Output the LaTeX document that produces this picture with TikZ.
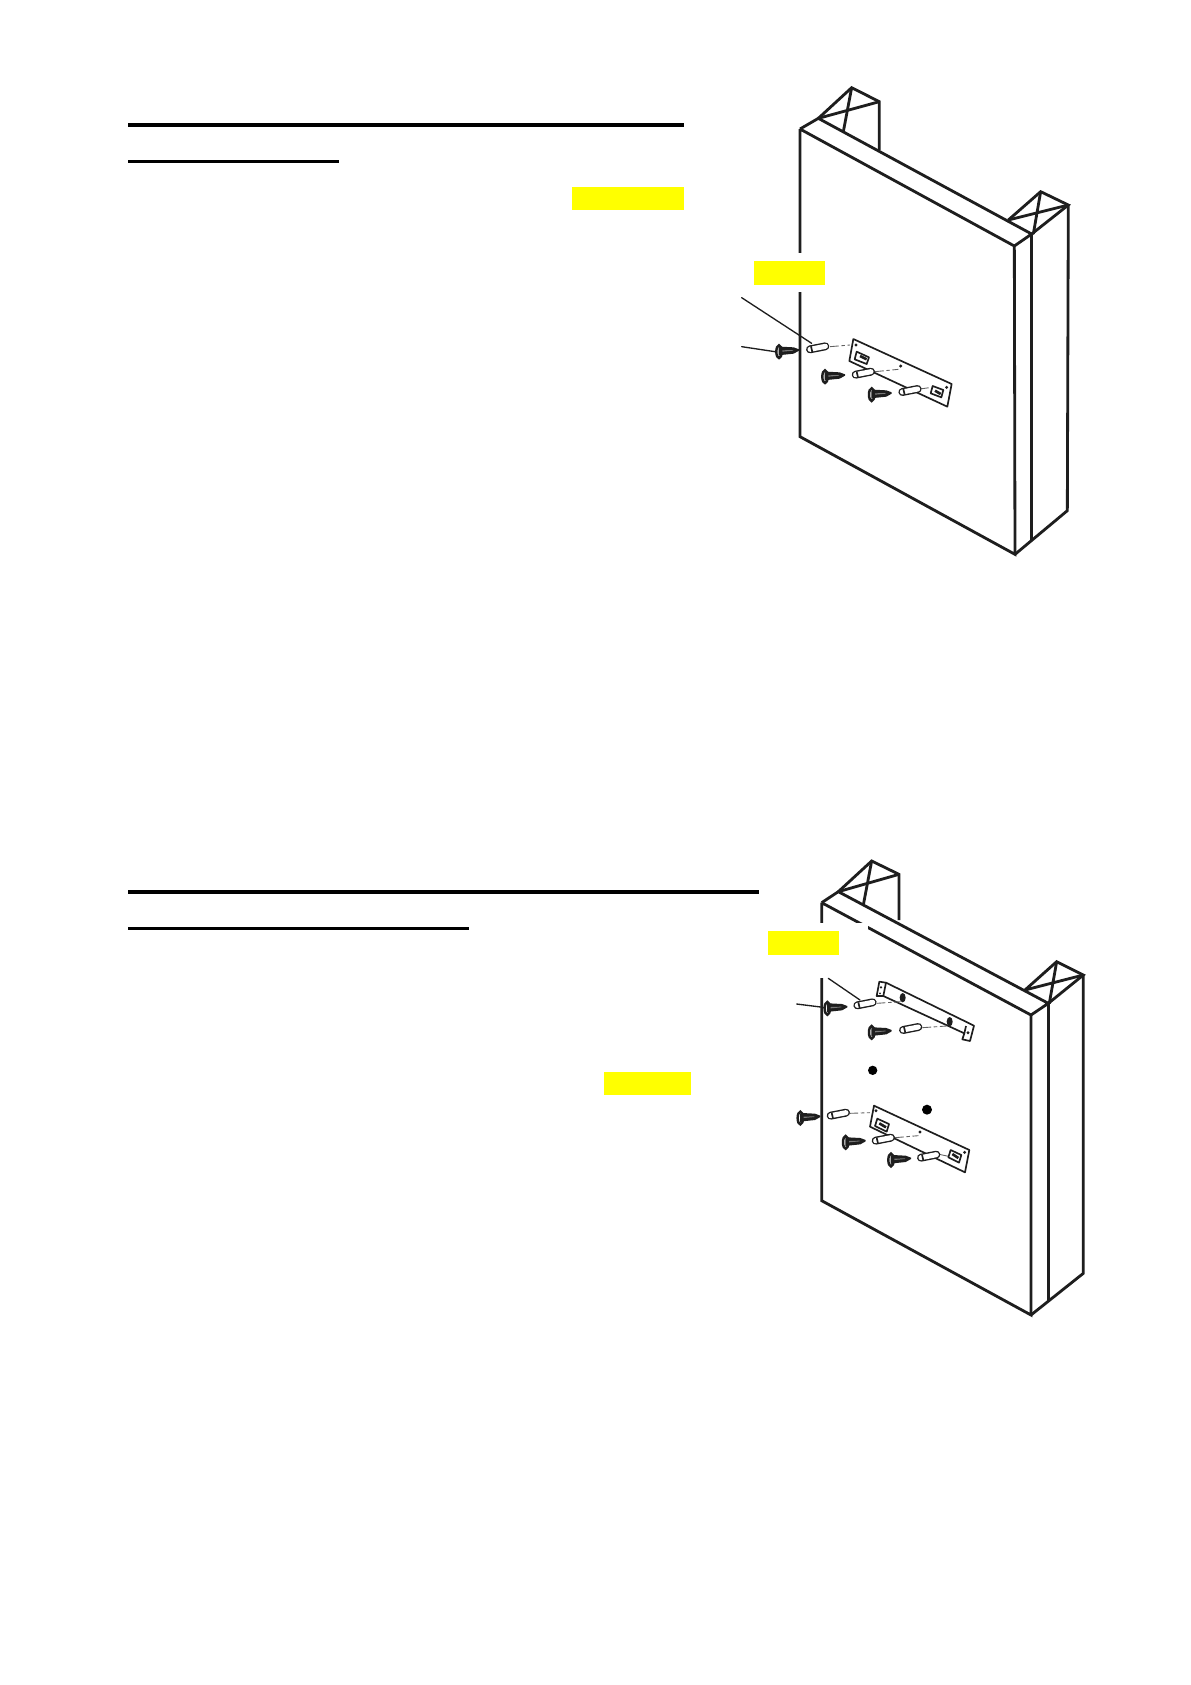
\documentclass[tikz,border=0pt]{standalone}
\definecolor{hilite}{RGB}{255,255,0}
\definecolor{ink}{RGB}{30,30,30}
\tikzset{
  heavy/.style={draw=ink,line width=1.6pt,line join=miter},
  fine/.style={draw=ink,line width=.75pt,line cap=round},
  thin dash/.style={draw=ink!70,line width=.5pt,dash pattern=on 5pt off 1.5pt on 2pt off 1.5pt},
  plate/.style={draw=ink,line width=.95pt,line join=round},
  zoomed/.style={shift={(#1)},scale=1/3}
}
% screw: head centre at #1,#2, tip towards the right
\newcommand{\screwat}[2]{%
  \begin{scope}[shift={(#1,#2)}]
    \draw[draw=ink,line width=1.4pt,fill=white] (0,0) ellipse [x radius=8,y radius=19];
    \fill[ink] (-1,-12) -- (6,-15) -- (44,-13) -- (60,-7) -- (60,-3) -- (44,6) -- (6,10) -- (-1,12) -- cycle;
    \fill[ink!60] (10,-4) -- (42,-5) -- (42,-3) -- (10,0) -- cycle;
  \end{scope}}
% plug: centre at #1,#2, right end raised
\newcommand{\plugat}[2]{%
  \begin{scope}[shift={(#1,#2)}]
    \draw[draw=ink,line width=4.5pt,line cap=round] (-23,4) -- (23,-5);
    \draw[draw=white,line width=2.9pt,line cap=round] (-23,4) -- (23,-5);
    \draw[plate] (-20,-5) -- (-16,12);
  \end{scope}}
\begin{document}
\begin{tikzpicture}[x=0.02cm,y=-0.02cm]
\useasboundingbox (0,0) rectangle (1191,1685);
\fill[white] (0,0) rectangle (1191,1685);

% ---------- headings rules and highlights, upper block
\fill[black] (128,123) rectangle (684,127);
\fill[black] (128,160) rectangle (339,163);
\fill[hilite] (572,187) rectangle (684,210);

% ---------- upper unit
\begin{scope}[zoomed={680,60}]
  \draw[heavy] (360,207) -- (360,1130) -- (1005,1483) -- (1003,558) -- (360,207);
  \draw[heavy] (360,207) -- (415,175) -- (1055,522) -- (1003,558);
  \draw[heavy] (415,175) -- (515,83) -- (598,125) -- (598,270);
  \draw[heavy] (415,175) -- (598,125);
  \draw[heavy] (515,83) -- (490,215);
  \draw[heavy] (985,480) -- (1082,395) -- (1165,435) -- (1055,522);
  \draw[heavy] (985,480) -- (1165,435);
  \draw[heavy] (1082,395) -- (1060,522);
  \draw[heavy] (1165,435) -- (1162,1352) -- (1005,1483);
  \draw[heavy] (1055,522) -- (1055,1440);
  \fill[white] (222,580) rectangle (435,696);
  \fill[hilite] (222,603) rectangle (435,675);
  \draw[fine] (185,713) -- (395,850);
  \draw[fine] (185,860) -- (285,875);
\end{scope}

\begin{scope}[zoomed={720,280}]
  \draw[plate,fill=white] (400,177) -- (695,312) -- (682,380) -- (388,243) -- cycle;
  \draw[plate] (410,215) -- (447,232) -- (440,252) -- (404,238) -- cycle;
  \draw[plate,line width=1.5pt] (420,228) -- (440,238);
  \draw[plate] (638,318) -- (670,330) -- (664,352) -- (632,340) -- cycle;
  \draw[plate,line width=1.5pt] (645,332) -- (662,342);
  \foreach \hx/\hy in {408/195,542/258,680/322} \fill[ink] (\hx,\hy) circle [radius=5];
  \draw[thin dash] (330,200) -- (390,195);
  \draw[thin dash] (465,275) -- (535,268);
  \draw[thin dash] (600,327) -- (635,322);
  \plugat{293}{204}
  \plugat{430}{280}
  \plugat{570}{332}
  \screwat{177}{215}
  \screwat{315}{290}
  \screwat{455}{344}
\end{scope}

% ---------- lower block rules and highlight
\fill[black] (128,890) rectangle (759,894);
\fill[black] (128,927) rectangle (469,930);
\fill[hilite] (604,1072) rectangle (691,1095);

% ---------- lower unit
\begin{scope}[zoomed={700,840}]
  \draw[heavy] (365,188) -- (365,1082) -- (993,1425) -- (993,525) -- (365,188);
  \draw[heavy] (365,188) -- (415,155) -- (1045,490) -- (993,525);
  \draw[heavy] (415,155) -- (515,63) -- (597,103) -- (597,240);
  \draw[heavy] (415,155) -- (597,103);
  \draw[heavy] (515,63) -- (490,195);
  \draw[heavy] (975,450) -- (1070,365) -- (1150,405) -- (1045,490);
  \draw[heavy] (975,450) -- (1150,405);
  \draw[heavy] (1070,365) -- (1048,490);
  \draw[heavy] (1150,405) -- (1150,1300) -- (993,1425);
  \draw[heavy] (1045,490) -- (1045,1385);
  \fill[white] (204,250) rectangle (505,415);
  \fill[hilite] (204,273) rectangle (417,345);
  \draw[fine] (385,415) -- (480,480);
  \draw[fine] (290,492) -- (370,502);
\end{scope}

\begin{scope}[zoomed={770,960}]
  % upper bracket
  \draw[plate,fill=white] (328,65) -- (348,68) -- (612,197) -- (600,243) -- (577,238) -- (583,220) -- (340,108) -- (320,108) -- cycle;
  \draw[plate] (348,68) -- (340,108);
  \draw[plate] (588,198) -- (583,220);
  \fill[ink] (398,113) ellipse [x radius=9,y radius=14];
  \fill[ink] (539,185) ellipse [x radius=9,y radius=14];
  \fill[ink] (333,82) circle [radius=4];
  \fill[ink] (330,100) circle [radius=3];
  \fill[ink] (594,218) circle [radius=5];
  \draw[thin dash] (320,130) -- (392,125);
  \draw[thin dash] (457,203) -- (530,198);
  \plugat{285}{132}
  \plugat{422}{206}
  \screwat{172}{145}
  \screwat{305}{217}
  % loose holes
  \fill[black] (308,331) circle [radius=14];
  \fill[black] (471,449) circle [radius=15];
  % lower bracket
  \draw[plate,fill=white] (312,437) -- (598,570) -- (585,637) -- (300,500) -- cycle;
  \draw[plate] (322,476) -- (357,492) -- (350,515) -- (315,498) -- cycle;
  \draw[plate,line width=1.5pt] (328,490) -- (348,502);
  \draw[plate] (542,570) -- (574,585) -- (567,608) -- (535,592) -- cycle;
  \draw[plate,line width=1.5pt] (547,582) -- (565,594);
  \foreach \hx/\hy in {318/452,450/516,584/577} \fill[ink] (\hx,\hy) circle [radius=5];
  \draw[thin dash] (238,460) -- (300,458);
  \draw[thin dash] (375,533) -- (445,527);
  \draw[thin dash] (508,583) -- (540,590);
  \plugat{205}{463}
  \plugat{340}{538}
  \plugat{476}{589}
  \screwat{91}{474}
  \screwat{227}{547}
  \screwat{363}{600}
\end{scope}
\end{tikzpicture}
\end{document}
